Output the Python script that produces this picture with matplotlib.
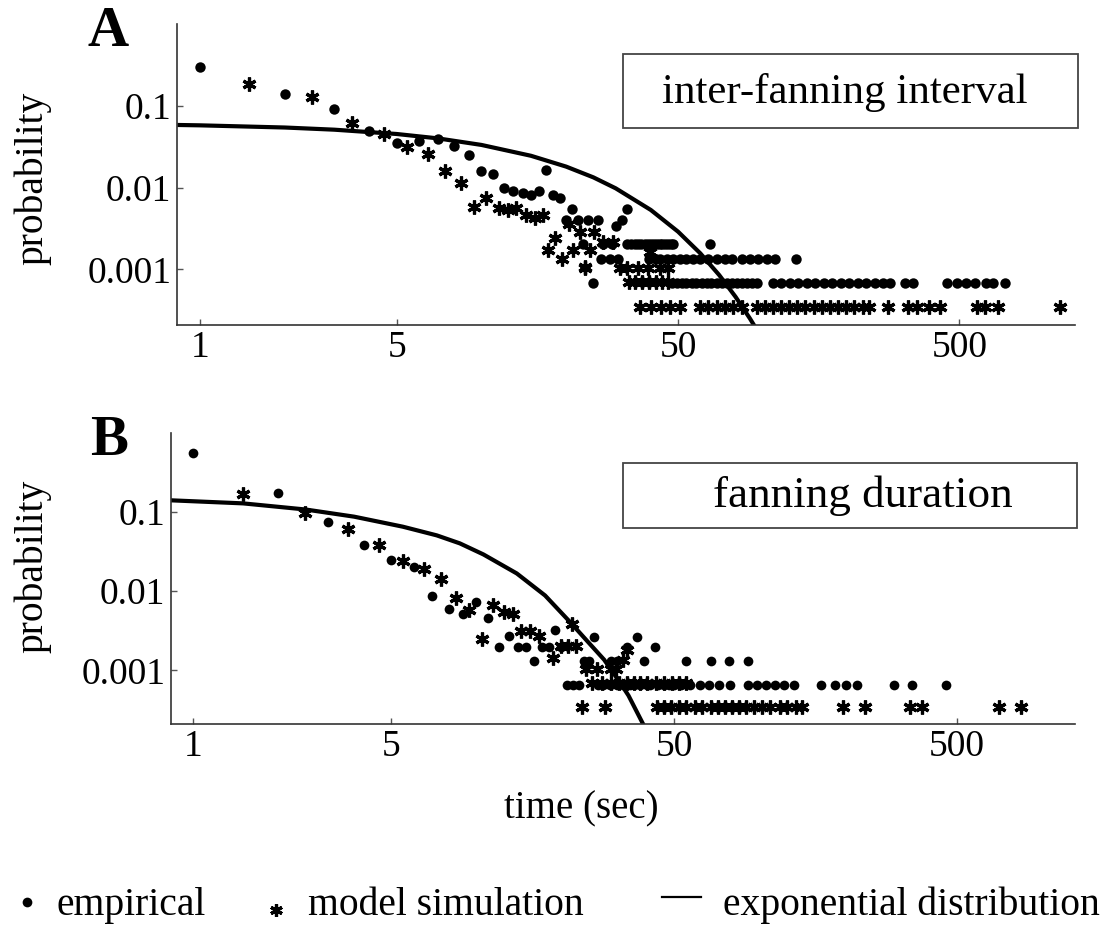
import numpy as np
import matplotlib
matplotlib.use("Agg")
import matplotlib.pyplot as plt
from matplotlib.lines import Line2D
from matplotlib.patches import Rectangle
from matplotlib.ticker import FixedLocator, FixedFormatter, NullLocator

plt.rcParams['font.family'] = ['Liberation Serif', 'DejaVu Serif']

#------------------------------------#
#  A: inter-fanning interval          #
#------------------------------------#
# empirical, individual points
a_emp_t = [1, 2, 3, 4, 5, 6, 7, 8, 9, 10, 11, 12, 13, 14, 15, 16, 17, 18, 19,
           21, 20, 22, 24, 26, 30, 31.5, 33, 23, 27, 29, 65]
a_emp_p = [0.298, 0.138, 0.090, 0.0489, 0.0352, 0.0371, 0.0393, 0.0324, 0.0251,
           0.0159, 0.0147, 0.00984, 0.00913, 0.0086, 0.0081, 0.0091, 0.0163,
           0.0081, 0.0074, 0.0054, 0.00405, 0.00405, 0.00405, 0.00405, 0.00338,
           0.00405, 0.0054, 0.00202, 0.00202, 0.00202, 0.00202]
# empirical, rows of equal counts (3, 2 and 1 events)
a_emp_row3 = [33, 34, 35, 36, 37, 38, 39, 40, 41, 42, 43, 44, 45, 46, 47, 48]
a_emp_row2 = [26.7, 28.6, 30.6, 39.3, 41.6, 43.1, 45.5, 48.0, 50.6, 53.5, 56.6,
              60, 64.1, 68.6, 73.4, 77.5, 84.2, 90.1, 96.4, 103.6, 110.9, 131]
a_emp_row1 = [24.9, 47.5, 49.4, 51.5, 53.5, 55.8, 58.1, 60.6, 63.1, 65.7, 68.6,
              71.4, 74.4, 77.6, 80.8, 84.2, 87.8, 91.5, 95.4, 109, 116.2, 124.6,
              133.6, 143.3, 153.6, 164.7, 176.6, 189.3, 203, 217.7, 233.5,
              250.3, 268.4, 283.6, 320, 343, 450, 491, 526, 570, 620, 660, 725]
a_emp_levels = [0.00202, 0.00135, 0.000675]

# model simulation, individual points
a_sim_t = [1.49, 2.49, 3.48, 4.51, 5.46, 6.48, 7.44, 8.47, 9.41, 10.4, 11.5,
           12.4, 13.3, 14.4, 15.5, 16.5, 17.3, 18.3, 19.4, 20.4, 21.2, 22.4,
           23.3, 24.3, 25.1, 27.1, 29.4, 39.7]
a_sim_p = [0.183, 0.128, 0.0616, 0.0444, 0.0309, 0.0256, 0.016, 0.0112, 0.0058,
           0.0074, 0.0056, 0.0053, 0.0056, 0.0046, 0.0043, 0.0046, 0.00175,
           0.00245, 0.00136, 0.00357, 0.00175, 0.00288, 0.00106, 0.00175,
           0.00288, 0.00217, 0.00217, 0.00164]
a_sim_row3 = [23.4, 31, 33, 36, 39, 43, 46]
a_sim_row2 = [33.4, 35.2, 37.1, 39.3, 41.6, 43.8, 46.2]
a_sim_row1 = [36.5, 40.2, 43.6, 46.7, 50.6, 60, 64.1, 68.6, 73.4, 78.6, 84.2,
              95.2, 101.7, 108.6, 116.1, 124, 132.6, 141.8, 151.6, 162, 173.2,
              185.2, 198, 211.6, 226.2, 238, 279, 329, 352, 391, 425, 575, 614,
              683, 1139]
a_sim_levels = [0.00105, 0.000698, 0.000349]

# exponential distribution
a_exp_t = [0.83, 1, 2, 3, 5, 7, 10, 15, 20, 25, 30, 40, 50, 60, 70, 80, 90, 95]
a_exp_p = [0.0580, 0.0574, 0.0540, 0.0508, 0.0450, 0.0398, 0.0331, 0.0244,
           0.0180, 0.0133, 0.00978, 0.00532, 0.00289, 0.00157, 0.000854,
           0.000464, 0.000252, 0.000186]

#------------------------------------#
#  B: fanning duration                #
#------------------------------------#
b_emp_t = [1, 2, 3, 4, 5, 6, 7, 8, 9, 10, 11, 12, 13, 14, 15, 16, 17, 18, 19,
           20, 24, 25, 26, 34.1, 42.9, 37.1, 30, 31.3, 39, 55, 67.4, 78.2, 91.3]
b_emp_p = [0.556, 0.171, 0.074, 0.0377, 0.0245, 0.020, 0.00863, 0.00596,
           0.00521, 0.0073, 0.00459, 0.00197, 0.0027, 0.00197, 0.00197, 0.0013,
           0.00197, 0.00197, 0.00325, 0.00197, 0.0013, 0.0013, 0.0026, 0.00195,
           0.00195, 0.0026, 0.0013, 0.0013, 0.0013, 0.0013, 0.0013, 0.0013,
           0.0013]
b_emp_row1 = [21, 22, 23, 27, 28, 29.6, 31.3, 33, 35, 36, 38, 40, 41, 44, 46,
              48, 50, 53, 57, 61.7, 66.3, 72.2, 78.7, 91.3, 98.1, 105.5, 113.4,
              121.9, 133, 165.6, 185.4, 202.4, 220.9, 299.8, 346.6, 456]
b_emp_level = 0.00065

b_sim_t = [1.50, 2.49, 3.51, 4.52, 5.49, 6.52, 7.53, 8.48, 9.45, 10.5, 11.5,
           12.5, 13.5, 14.4, 15.5, 16.6, 18.6, 20, 21.1, 21.7, 22.5, 24.5,
           26.6, 30, 31.2, 33.1, 34.2]
b_sim_p = [0.167, 0.0955, 0.0605, 0.0387, 0.0239, 0.0189, 0.0144, 0.0082,
           0.00574, 0.00245, 0.00664, 0.0055, 0.0052, 0.0031, 0.0031, 0.00275,
           0.00141, 0.002, 0.002, 0.0038, 0.002, 0.00105, 0.00105, 0.00105,
           0.00105, 0.00134, 0.00179]
b_sim_row2 = [25.6, 27.7, 30, 32, 34, 36, 38, 40, 43, 46, 49, 52, 55]
b_sim_row1 = [23.7, 28.6, 43.6, 46.2, 48.9, 51.9, 55.0, 59.1, 62.6, 67.3, 71.4,
              75.7, 80.1, 84.9, 90.0, 95.4, 102.6, 108.7, 118.5, 125, 135, 141,
              197, 237, 340, 377, 702, 839]
b_sim_levels = [0.0007, 0.000345]

b_exp_t = [0.83, 1.5, 2.5, 3.7, 5.5, 7.25, 8.75, 10.6, 13.9, 17.5, 21.4, 24.5,
           28.3, 32.2, 34.5, 39.4]
b_exp_p = [0.140, 0.128, 0.107, 0.087, 0.065, 0.0505, 0.040, 0.029, 0.0167,
           0.0088, 0.0041, 0.0024, 0.00136, 0.00070, 0.00048, 0.00019]

x_ticks = [1, 5, 50, 500]
y_ticks = [0.001, 0.01, 0.1]
y_tick_labels = ['0.001', '0.01', '0.1']

W, H = 1111, 926
fig = plt.figure(figsize=(W / 100, H / 100), dpi=100)

axA = fig.add_axes([176.7 / W, 1 - 325 / H, 898.3 / W, 301 / H])
axB = fig.add_axes([171 / W, 1 - 724 / H, 904 / W, 291 / H])

dot_style = dict(linestyle='none', marker='o', color='black', markeredgewidth=0)
star_style = dict(linestyle='none', marker=(6, 2, 0), color='black',
                  markeredgewidth=2.3)


def style_axis(ax, xlim):
    ax.set_xscale('log')
    ax.set_yscale('log')
    ax.set_xlim(*xlim)
    ax.set_ylim(2.1e-4, 0.99)
    ax.xaxis.set_major_locator(FixedLocator(x_ticks))
    ax.xaxis.set_major_formatter(FixedFormatter([str(v) for v in x_ticks]))
    ax.xaxis.set_minor_locator(NullLocator())
    ax.yaxis.set_major_locator(FixedLocator(y_ticks))
    ax.yaxis.set_major_formatter(FixedFormatter(y_tick_labels))
    ax.yaxis.set_minor_locator(NullLocator())
    ax.spines['top'].set_visible(False)
    ax.spines['right'].set_visible(False)
    for s in ('left', 'bottom'):
        ax.spines[s].set_color('#333333')
        ax.spines[s].set_linewidth(1.2)
    ax.tick_params(direction='in', length=4, width=1, color='#555555',
                   labelsize=27, pad=4)


# panel A
axA.plot(a_exp_t, a_exp_p, color='black', linewidth=3, solid_capstyle='butt')
axA.plot(a_emp_t, a_emp_p, markersize=7.5, **dot_style)
for lvl, row in zip(a_emp_levels, [a_emp_row3, a_emp_row2, a_emp_row1]):
    axA.plot(row, [lvl] * len(row), markersize=7.5, **dot_style)
axA.plot(a_sim_t, a_sim_p, markersize=10, **star_style)
for lvl, row in zip(a_sim_levels, [a_sim_row3, a_sim_row2, a_sim_row1]):
    axA.plot(row, [lvl] * len(row), markersize=10, **star_style)
style_axis(axA, (0.826, 1287))

# panel B
axB.plot(b_exp_t, b_exp_p, color='black', linewidth=3, solid_capstyle='butt')
axB.plot(b_emp_t, b_emp_p, markersize=7, **dot_style)
axB.plot(b_emp_row1, [b_emp_level] * len(b_emp_row1), markersize=7, **dot_style)
axB.plot(b_sim_t, b_sim_p, markersize=10, **star_style)
for lvl, row in zip(b_sim_levels, [b_sim_row2, b_sim_row1]):
    axB.plot(row, [lvl] * len(row), markersize=10, **star_style)
style_axis(axB, (0.834, 1305))

# panel letters and y labels
fig.text(88 / W, 1 - 46 / H, 'A', fontsize=41, fontweight='bold', va='baseline')
fig.text(90 / W, 1 - 455 / H, 'B', fontsize=41, fontweight='bold', va='baseline')
fig.text(33 / W, 1 - 178 / H, 'probability', rotation=90, fontsize=28.5,
         ha='center', va='center')
fig.text(33 / W, 1 - 566 / H, 'probability', rotation=90, fontsize=28.5,
         ha='center', va='center')

# title boxes
fig.add_artist(Rectangle((622.7 / W, 1 - 128 / H), 455.3 / W, 74 / H,
                         transform=fig.transFigure, fill=False,
                         edgecolor='#444444', linewidth=1.3))
fig.text(845 / W, 1 - 103 / H, 'inter-fanning interval', fontsize=31,
         ha='center', va='baseline')
fig.add_artist(Rectangle((622.7 / W, 1 - 528.3 / H), 454 / W, 65.6 / H,
                         transform=fig.transFigure, fill=False,
                         edgecolor='#444444', linewidth=1.3))
fig.text(863 / W, 1 - 506.7 / H, 'fanning duration', fontsize=32.5,
         ha='center', va='baseline')

fig.text(581 / W, 1 - 818 / H, 'time (sec)', fontsize=28, ha='center',
         va='baseline')

# legend along the bottom
fig.add_artist(Line2D([27 / W], [1 - 902 / H], transform=fig.transFigure,
                      marker='o', markersize=7, color='black', markeredgewidth=0))
fig.text(57 / W, 1 - 915 / H, 'empirical', fontsize=28.5, va='baseline')
fig.add_artist(Line2D([276 / W], [1 - 910 / H], transform=fig.transFigure,
                      marker=(6, 2, 0), markersize=9, color='black',
                      markeredgewidth=2.3))
fig.text(308 / W, 1 - 915 / H, 'model simulation', fontsize=28.5, va='baseline')
fig.add_artist(Line2D([662 / W, 701 / W], [1 - 897 / H, 1 - 897 / H],
                      transform=fig.transFigure, color='black', linewidth=1.6))
fig.text(723 / W, 1 - 915 / H, 'exponential distribution', fontsize=28.5,
         va='baseline')

fig.savefig('out.png', dpi=100)
